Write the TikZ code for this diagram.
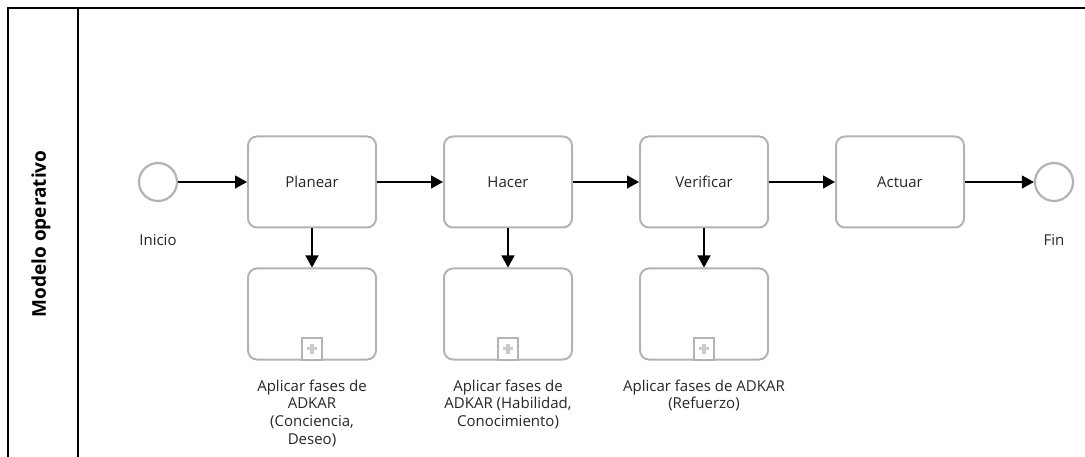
\documentclass[tikz,border=0pt]{standalone}
\usepackage{fontspec}
\setmainfont{Open Sans}
\usetikzlibrary{arrows.meta}
\definecolor{shapegray}{HTML}{B3B3B3}
\definecolor{labelgray}{HTML}{262626}
\tikzset{
  x=1pt, y=-1pt,
  lane/.style={draw=black, line width=1.6pt},
  task/.style={draw=shapegray, line width=2pt, rounded corners=9pt,
    minimum width=128pt, minimum height=91pt, inner sep=0pt,
    font=\fontsize{15}{18}\selectfont, text=labelgray},
  event/.style={draw=shapegray, line width=2.2pt, circle,
    minimum size=38pt, inner sep=0pt},
  lbl/.style={font=\fontsize{15}{17.8}\selectfont, text=labelgray, align=center},
  flow/.style={draw=black, line width=1.2pt,
    -{Triangle[length=12pt, width=13pt]}},
  marker/.style={draw=shapegray, line width=1.6pt, minimum width=20pt,
    minimum height=22pt, inner sep=0pt, anchor=south, fill=white}
}
\newcommand{\submarker}[1]{%
  \node[marker] (#1m) at (#1.south) {};
  \draw[shapegray!70, line width=3.5pt] ([xshift=-5pt]#1m.center) -- ([xshift=5pt]#1m.center);
  \draw[shapegray!70, line width=3.5pt] ([yshift=-5pt]#1m.center) -- ([yshift=5pt]#1m.center);
}
\begin{document}
\begin{tikzpicture}
\useasboundingbox (0,0) rectangle (1085,457);
\fill[white] (0,0) rectangle (1085,457);

% pool frame and lane header
\draw[lane] (8,457) -- (8,8) -- (1085,8);
\draw[lane] (78,8) -- (78,457);
\node[rotate=90, font=\fontsize{19}{22}\selectfont\bfseries] (title) at (41,234) {Modelo operativo};

% events
\node[event] (ini) at (158,182) {};
\node[event] (fin) at (1054,182) {};
\node[lbl] (inilbl) at (158,240) {Inicio};
\node[lbl] (finlbl) at (1054,240) {Fin};

% main tasks
\node[task] (plan)   at (312,182) {Planear};
\node[task] (hacer)  at (508,182) {Hacer};
\node[task] (verif)  at (704,182) {Verificar};
\node[task] (actuar) at (900,182) {Actuar};

% collapsed subprocesses
\node[task] (splan)  at (312,314) {};
\node[task] (shacer) at (508,314) {};
\node[task] (sverif) at (704,314) {};
\submarker{splan}
\submarker{shacer}
\submarker{sverif}

\node[lbl, anchor=north] (splanlbl)  at (312,376) {Aplicar fases de\\ADKAR\\(Conciencia,\\Deseo)};
\node[lbl, anchor=north] (shacerlbl) at (508,376) {Aplicar fases de\\ADKAR (Habilidad,\\Conocimiento)};
\node[lbl, anchor=north] (sveriflbl) at (704,376) {Aplicar fases de ADKAR\\(Refuerzo)};

% sequence flows
\draw[flow] (ini) -- (plan);
\draw[flow] (plan) -- (hacer);
\draw[flow] (hacer) -- (verif);
\draw[flow] (verif) -- (actuar);
\draw[flow] (actuar) -- (fin);
\draw[flow] (plan) -- (splan);
\draw[flow] (hacer) -- (shacer);
\draw[flow] (verif) -- (sverif);
\end{tikzpicture}
\end{document}
